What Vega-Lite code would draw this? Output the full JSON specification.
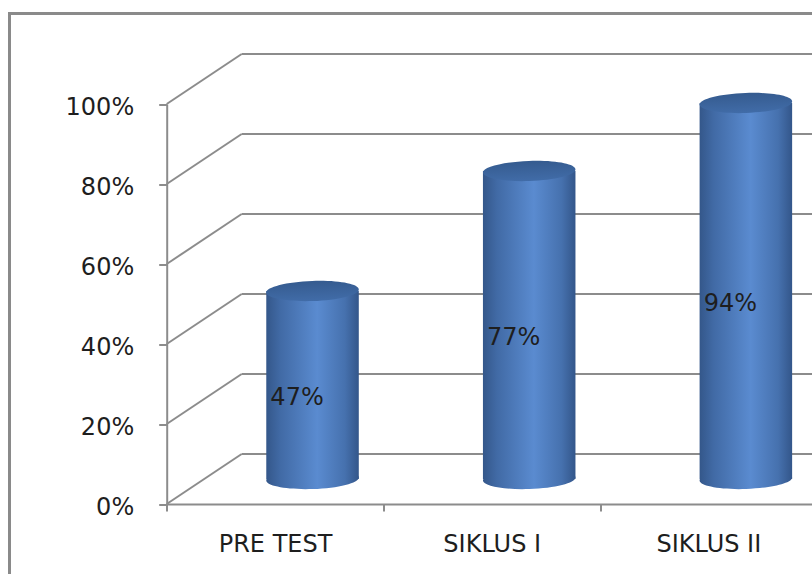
{
  "$schema": "https://vega.github.io/schema/vega-lite/v6.json",
  "width": 815,
  "height": 570.5,
  "autosize": {"type": "none"},
  "padding": {"left": 9.5, "top": 13.5, "right": -12.5, "bottom": -10},
  "background": "white",
  "config": {
    "view": {"stroke": "#8a8a8a", "strokeWidth": 3},
    "font": "DejaVu Sans"
  },
  "data": {
    "values": [
      {"cat": "PRE TEST", "value": 0.47},
      {"cat": "SIKLUS I", "value": 0.77},
      {"cat": "SIKLUS II", "value": 0.94}
    ]
  },
  "resolve": {"scale": {"x": "independent"}, "axis": {"x": "independent"}},
  "layer": [
    {
      "data": {"values": [{"v": 0}, {"v": 0.2}, {"v": 0.4}, {"v": 0.6}, {"v": 0.8}, {"v": 1}]},
      "layer": [
        {
          "mark": {"type": "rule", "color": "#8c8c8c", "strokeWidth": 2, "x2Offset": 75, "y2Offset": -50},
          "encoding": {
            "x": {"datum": 0, "type": "quantitative", "scale": {"domain": [0, 3], "range": [157.2, 807.2]}, "axis": null},
            "x2": {"datum": 0},
            "y": {"field": "v", "type": "quantitative", "scale": {"domain": [0, 1], "range": [490.5, 90.5]}},
            "y2": {"field": "v"}
          }
        },
        {
          "mark": {"type": "rule", "color": "#8c8c8c", "strokeWidth": 2, "xOffset": 75, "yOffset": -50, "y2Offset": -50},
          "encoding": {
            "x": {"datum": 0, "type": "quantitative", "scale": {"domain": [0, 3], "range": [157.2, 807.2]}, "axis": null},
            "x2": {"datum": 3.5},
            "y": {"field": "v", "type": "quantitative", "scale": {"domain": [0, 1], "range": [490.5, 90.5]}}
          }
        }
      ]
    },
    {
      "encoding": {
        "x": {
          "field": "cat", "type": "nominal", "sort": null,
          "scale": {"range": [157.2, 807.2], "paddingInner": 0, "paddingOuter": 0},
          "axis": {
            "title": null, "orient": "bottom", "offset": -80, "tickBand": "extent",
            "labelAngle": 0, "labelFont": "DejaVu Sans", "labelFontSize": 24, "labelColor": "#1e1e1e",
            "labelPadding": 21, "tickSize": 7, "tickWidth": 2, "tickColor": "#8c8c8c",
            "domainColor": "#8c8c8c", "domainWidth": 2, "grid": false
          }
        }
      },
      "layer": [
        {
          "mark": {
            "type": "point", "filled": true, "opacity": 1, "strokeWidth": 0, "size": 8575, "angle": -2,
            "shape": "M -1 0 C -1 -0.1193 -0.5523 -0.216 0 -0.216 C 0.5523 -0.216 1 -0.1193 1 0 C 1 0.1193 0.5523 0.216 0 0.216 C -0.5523 0.216 -1 0.1193 -1 0 Z",
            "xOffset": 37.5, "yOffset": -25,
            "fill": {"gradient": "linear", "x1": 0, "y1": 0, "x2": 1, "y2": 0, "stops": [
              {"offset": 0, "color": "#34578a"}, {"offset": 0.15, "color": "#416aa5"},
              {"offset": 0.55, "color": "#5a8bd0"}, {"offset": 0.85, "color": "#4671ae"},
              {"offset": 1, "color": "#33568a"}]}
          },
          "encoding": {
            "y": {"datum": 0, "type": "quantitative", "scale": {"domain": [0, 1], "range": [490.5, 90.5]}}
          }
        },
        {
          "mark": {
            "type": "bar", "width": {"band": 0.427}, "xOffset": 37.5, "yOffset": -25, "y2Offset": -25,
            "fill": {"gradient": "linear", "x1": 0, "y1": 0, "x2": 1, "y2": 0, "stops": [
              {"offset": 0, "color": "#34578a"}, {"offset": 0.15, "color": "#416aa5"},
              {"offset": 0.55, "color": "#5a8bd0"}, {"offset": 0.85, "color": "#4671ae"},
              {"offset": 1, "color": "#33568a"}]}
          },
          "encoding": {
            "y": {
              "field": "value", "type": "quantitative",
              "scale": {"domain": [0, 1], "range": [490.5, 90.5]},
              "axis": {
                "title": null, "orient": "left", "offset": -157.2, "values": [0, 0.2, 0.4, 0.6, 0.8, 1],
                "format": ".0%", "labelFont": "DejaVu Sans", "labelFontSize": 24, "labelColor": "#1e1e1e",
                "labelPadding": 25, "labelOffset": 3, "tickSize": 8, "tickWidth": 2, "tickColor": "#8c8c8c",
                "domainColor": "#8c8c8c", "domainWidth": 2, "grid": false
              }
            },
            "y2": {"datum": 0}
          }
        },
        {
          "mark": {
            "type": "point", "filled": true, "opacity": 1, "strokeWidth": 0, "size": 8575, "angle": -2,
            "shape": "M -1 0 C -1 -0.1193 -0.5523 -0.216 0 -0.216 C 0.5523 -0.216 1 -0.1193 1 0 C 1 0.1193 0.5523 0.216 0 0.216 C -0.5523 0.216 -1 0.1193 -1 0 Z",
            "xOffset": 37.5, "yOffset": -25,
            "fill": {"gradient": "linear", "x1": 0, "y1": 0, "x2": 0, "y2": 1, "stops": [
              {"offset": 0, "color": "#355b8f"}, {"offset": 1, "color": "#416ca8"}]}
          },
          "encoding": {
            "y": {"field": "value", "type": "quantitative", "scale": {"domain": [0, 1], "range": [490.5, 90.5]}}
          }
        },
        {
          "transform": [{"calculate": "datum.value / 2", "as": "mid"}],
          "mark": {"type": "text", "font": "DejaVu Sans", "fontSize": 24, "color": "#1e1e1e", "align": "center", "baseline": "middle", "xOffset": 22, "yOffset": -12},
          "encoding": {
            "y": {"field": "mid", "type": "quantitative", "scale": {"domain": [0, 1], "range": [490.5, 90.5]}},
            "text": {"field": "value", "type": "quantitative", "format": ".0%"}
          }
        }
      ]
    }
  ]
}
